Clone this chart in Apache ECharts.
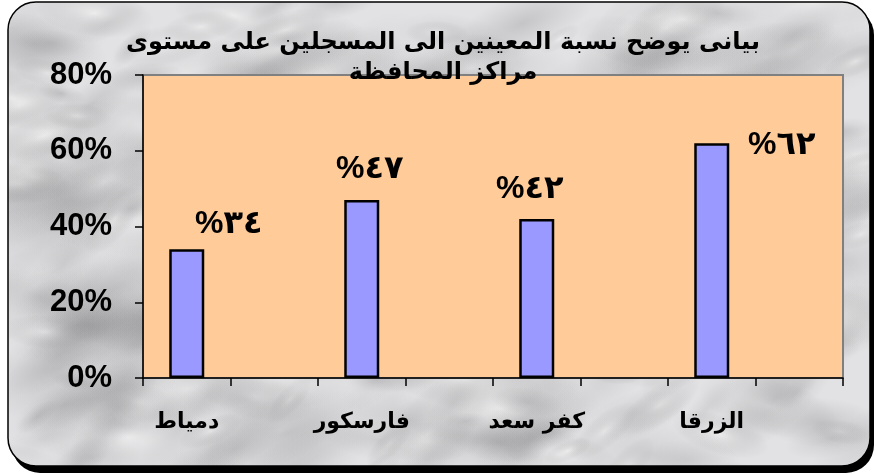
<!DOCTYPE html>
<html>
<head>
<meta charset="utf-8">
<script src="https://cdn.jsdelivr.net/npm/echarts@6/dist/echarts.min.js"></script>
<style>
html,body{margin:0;padding:0;background:#fff;}
#chart{width:876px;height:475px;}
</style>
</head>
<body>
<div id="chart"></div>
<script>
// ---- data ----
const categories = ['دمياط', 'فارسكور', 'كفر سعد', 'الزرقا'];
const values = [34, 47, 42, 62];
const yTicks = [0, 20, 40, 60, 80];
const titleText = 'بيانى يوضح نسبة المعينين الى المسجلين على مستوى\nمراكز المحافظة';

// ---- helpers ----
const arabicDigits = '٠١٢٣٤٥٦٧٨٩';
function toArabic(n) { return String(n).replace(/\d/g, d => arabicDigits[+d]); }

// marble-like texture (deterministic)
function makeTexture(w, h) {
  const c = document.createElement('canvas');
  c.width = w; c.height = h;
  const g = c.getContext('2d');
  g.fillStyle = '#e2e2e4';
  g.fillRect(0, 0, w, h);
  function hash(i) { const s = Math.sin(i * 127.1 + 311.7) * 43758.5453; return s - Math.floor(s); }
  for (let i = 0; i < 320; i++) {
    const x = hash(i) * w, y = hash(i + 1000) * h;
    const r = 12 + hash(i + 2000) * 45;
    const dark = hash(i + 3000) > 0.45;
    const a = 0.10 + hash(i + 4000) * 0.16;
    const grad = g.createRadialGradient(x, y, 0, x, y, r);
    grad.addColorStop(0, dark ? 'rgba(110,110,115,' + a + ')' : 'rgba(255,255,255,' + (a + 0.15) + ')');
    grad.addColorStop(1, 'rgba(128,128,128,0)');
    g.save();
    g.translate(x, y);
    g.rotate(-0.9 + hash(i + 5000) * 1.2);
    g.scale(1.8, 0.7);
    g.translate(-x, -y);
    g.fillStyle = grad;
    g.beginPath(); g.arc(x, y, r, 0, Math.PI * 2); g.fill();
    g.restore();
  }
  return c;
}

// ---- build axis slots (each category followed by an empty slot) ----
const slots = [];
categories.forEach(c => { slots.push(c); slots.push(''); });
const labelShift = [[42, -4], [8, -10], [-7, -9], [70, 23]];
const barData = [];
values.forEach((v, i) => {
  barData.push({
    value: v,
    label: {
      show: true,
      position: 'top',
      offset: labelShift[i],
      formatter: '%' + toArabic(v)
    }
  });
  barData.push(null);
});

const chart = echarts.init(document.getElementById('chart'), null, { renderer: 'canvas' });
const tex = makeTexture(876, 475);

chart.setOption({
  backgroundColor: '#ffffff',
  animation: false,
  graphic: [
    { type: 'rect', z: -10, shape: { x: 12, y: 7, width: 862, height: 466, r: 28 }, style: { fill: '#000' } },
    { type: 'rect', z: -9, shape: { x: 8, y: 2, width: 862, height: 464, r: 28 }, style: { fill: { image: tex, repeat: 'no-repeat' }, stroke: '#000', lineWidth: 1.5 } }
  ],
  title: {
    text: titleText,
    left: 438,
    textAlign: 'center',
    top: 23,
    z: 10,
    textStyle: { fontFamily: 'DejaVu Sans', fontWeight: 'bold', fontSize: 24, color: '#000', lineHeight: 30 }
  },
  grid: {
    left: 143, top: 75, width: 700, height: 303,
    show: true, backgroundColor: '#FFCC99', borderColor: '#808080', borderWidth: 2
  },
  xAxis: {
    type: 'category',
    data: slots,
    boundaryGap: true,
    axisLine: { lineStyle: { color: '#000', width: 1.5 } },
    axisTick: { show: true, interval: 0, length: 8, lineStyle: { color: '#000', width: 1.5 } },
    axisLabel: {
      interval: 0, margin: 33, color: '#000',
      fontFamily: 'DejaVu Sans', fontWeight: 'bold', fontSize: 22
    }
  },
  yAxis: {
    type: 'value',
    min: yTicks[0], max: yTicks[yTicks.length - 1], interval: yTicks[1] - yTicks[0],
    axisLine: { show: true, lineStyle: { color: '#000', width: 1.5 } },
    axisTick: { show: true, length: 8, lineStyle: { color: '#000', width: 1.5 } },
    splitLine: { show: false },
    axisLabel: {
      formatter: '{value}%', color: '#000', margin: 31,
      fontFamily: 'Liberation Sans', fontWeight: 'bold', fontSize: 31
    }
  },
  series: [{
    type: 'bar',
    data: barData,
    barWidth: 35,
    itemStyle: { color: '#9999FF', borderColor: '#000', borderWidth: 2.5 },
    label: {
      color: '#000', fontFamily: 'Liberation Sans, DejaVu Sans', fontWeight: 'bold', fontSize: 32
    }
  }]
});
</script>
</body>
</html>
